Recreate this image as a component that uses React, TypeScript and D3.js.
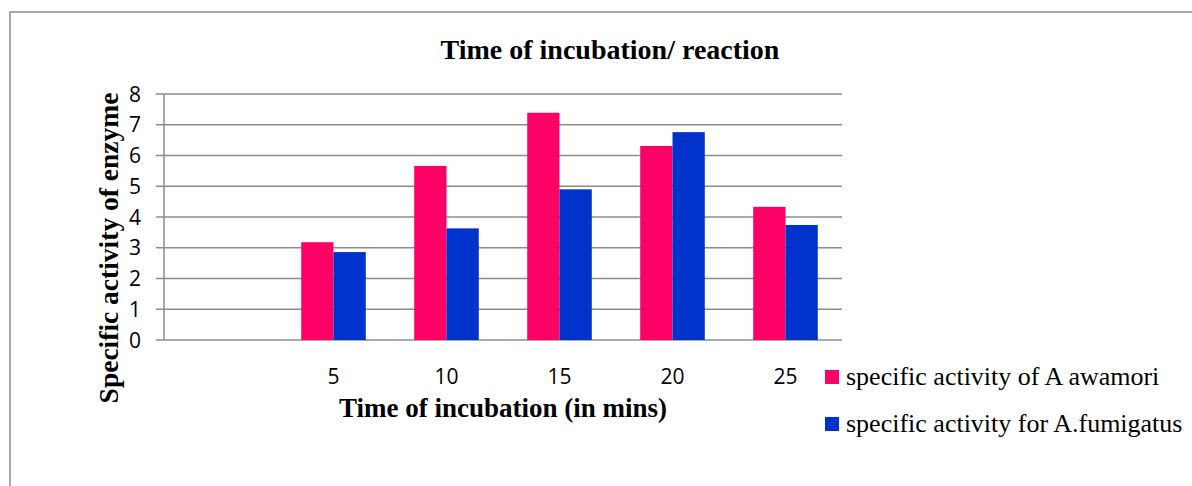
import React, { useEffect } from 'react';
import * as d3 from 'd3';

const categories = ['', '5', '10', '15', '20', '25'];
const awamori = [null, 3.18, 5.66, 7.39, 6.31, 4.33];
const fumigatus = [null, 2.86, 3.63, 4.9, 6.76, 3.74];
const seriesNames = ['specific activity of A awamori', 'specific activity for A.fumigatus'];
const seriesColors = ['#FF0066', '#0033CC'];
const yTicks = [0, 1, 2, 3, 4, 5, 6, 7, 8];

const W = 1192;
const H = 486;
const serif = '"Liberation Serif", "Times New Roman", serif';
const sans = '"Open Sans", "Noto Sans", sans-serif';

const App = () => {
  useEffect(() => {
    document.body.style.margin = '0';
  }, []);

  const left = 164;
  const right = 842;
  const top = 94;
  const bottom = 340;

  const x = d3.scaleBand<string>().domain(categories).range([left, right]).padding(0);
  const bw = x.bandwidth();
  // Excel-like gap width of 150%
  const groupW = (bw * 2) / 3.5;
  const x1 = d3
    .scaleBand<number>()
    .domain([0, 1])
    .range([(bw - groupW) / 2, (bw + groupW) / 2]);
  const y = d3.scaleLinear().domain([0, 8]).range([bottom, top]);

  const series = [awamori, fumigatus];

  return (
    <svg width={W} height={H} style={{ display: 'block' }}>
      <rect x={0} y={0} width={W} height={H} fill="#fff" />
      <rect x={10} y={12} width={W + 20} height={H + 20} fill="none" stroke="#8c8c8c" strokeWidth={1.5} />

      <text x={610} y={59} textAnchor="middle" fontFamily={serif} fontWeight="bold" fontSize={28}>
        Time of incubation/ reaction
      </text>

      {/* gridlines */}
      {yTicks.map((t) => (
        <line key={t} x1={left - 8} x2={right} y1={y(t)} y2={y(t)} stroke="#8c8c8c" strokeWidth={1.5} />
      ))}
      <line x1={left} x2={left} y1={top} y2={bottom} stroke="#8c8c8c" strokeWidth={1.5} />

      {/* bars */}
      {series.map((vals, si) =>
        vals.map((v, i) =>
          v == null ? null : (
            <rect
              key={`${si}-${i}`}
              x={(x(categories[i]) as number) + (x1(si) as number)}
              y={y(v)}
              width={x1.bandwidth()}
              height={bottom - y(v)}
              fill={seriesColors[si]}
            />
          )
        )
      )}

      {/* y tick labels */}
      {yTicks.map((t) => (
        <text key={t} x={141} y={y(t)} dy="0.36em" textAnchor="end" fontFamily={sans} fontSize={21}>
          {t}
        </text>
      ))}

      {/* x tick labels */}
      {categories.map((c) => (
        <text key={c} x={(x(c) as number) + bw / 2} y={384} textAnchor="middle" fontFamily={sans} fontSize={21}>
          {c}
        </text>
      ))}

      <text x={503} y={417} textAnchor="middle" fontFamily={serif} fontWeight="bold" fontSize={27}>
        Time of incubation (in mins)
      </text>

      <text
        transform={`translate(118, 248) rotate(-90)`}
        textAnchor="middle"
        fontFamily={serif}
        fontWeight="bold"
        fontSize={27.5}
      >
        Specific activity of enzyme
      </text>

      {/* legend */}
      {seriesNames.map((n, i) => (
        <g key={n} transform={`translate(825, ${370 + i * 47})`}>
          <rect x={0} y={0} width={14} height={14} fill={seriesColors[i]} />
          <text x={21} y={15} fontFamily={serif} fontSize={26}>
            {n}
          </text>
        </g>
      ))}
    </svg>
  );
};

export default App;
